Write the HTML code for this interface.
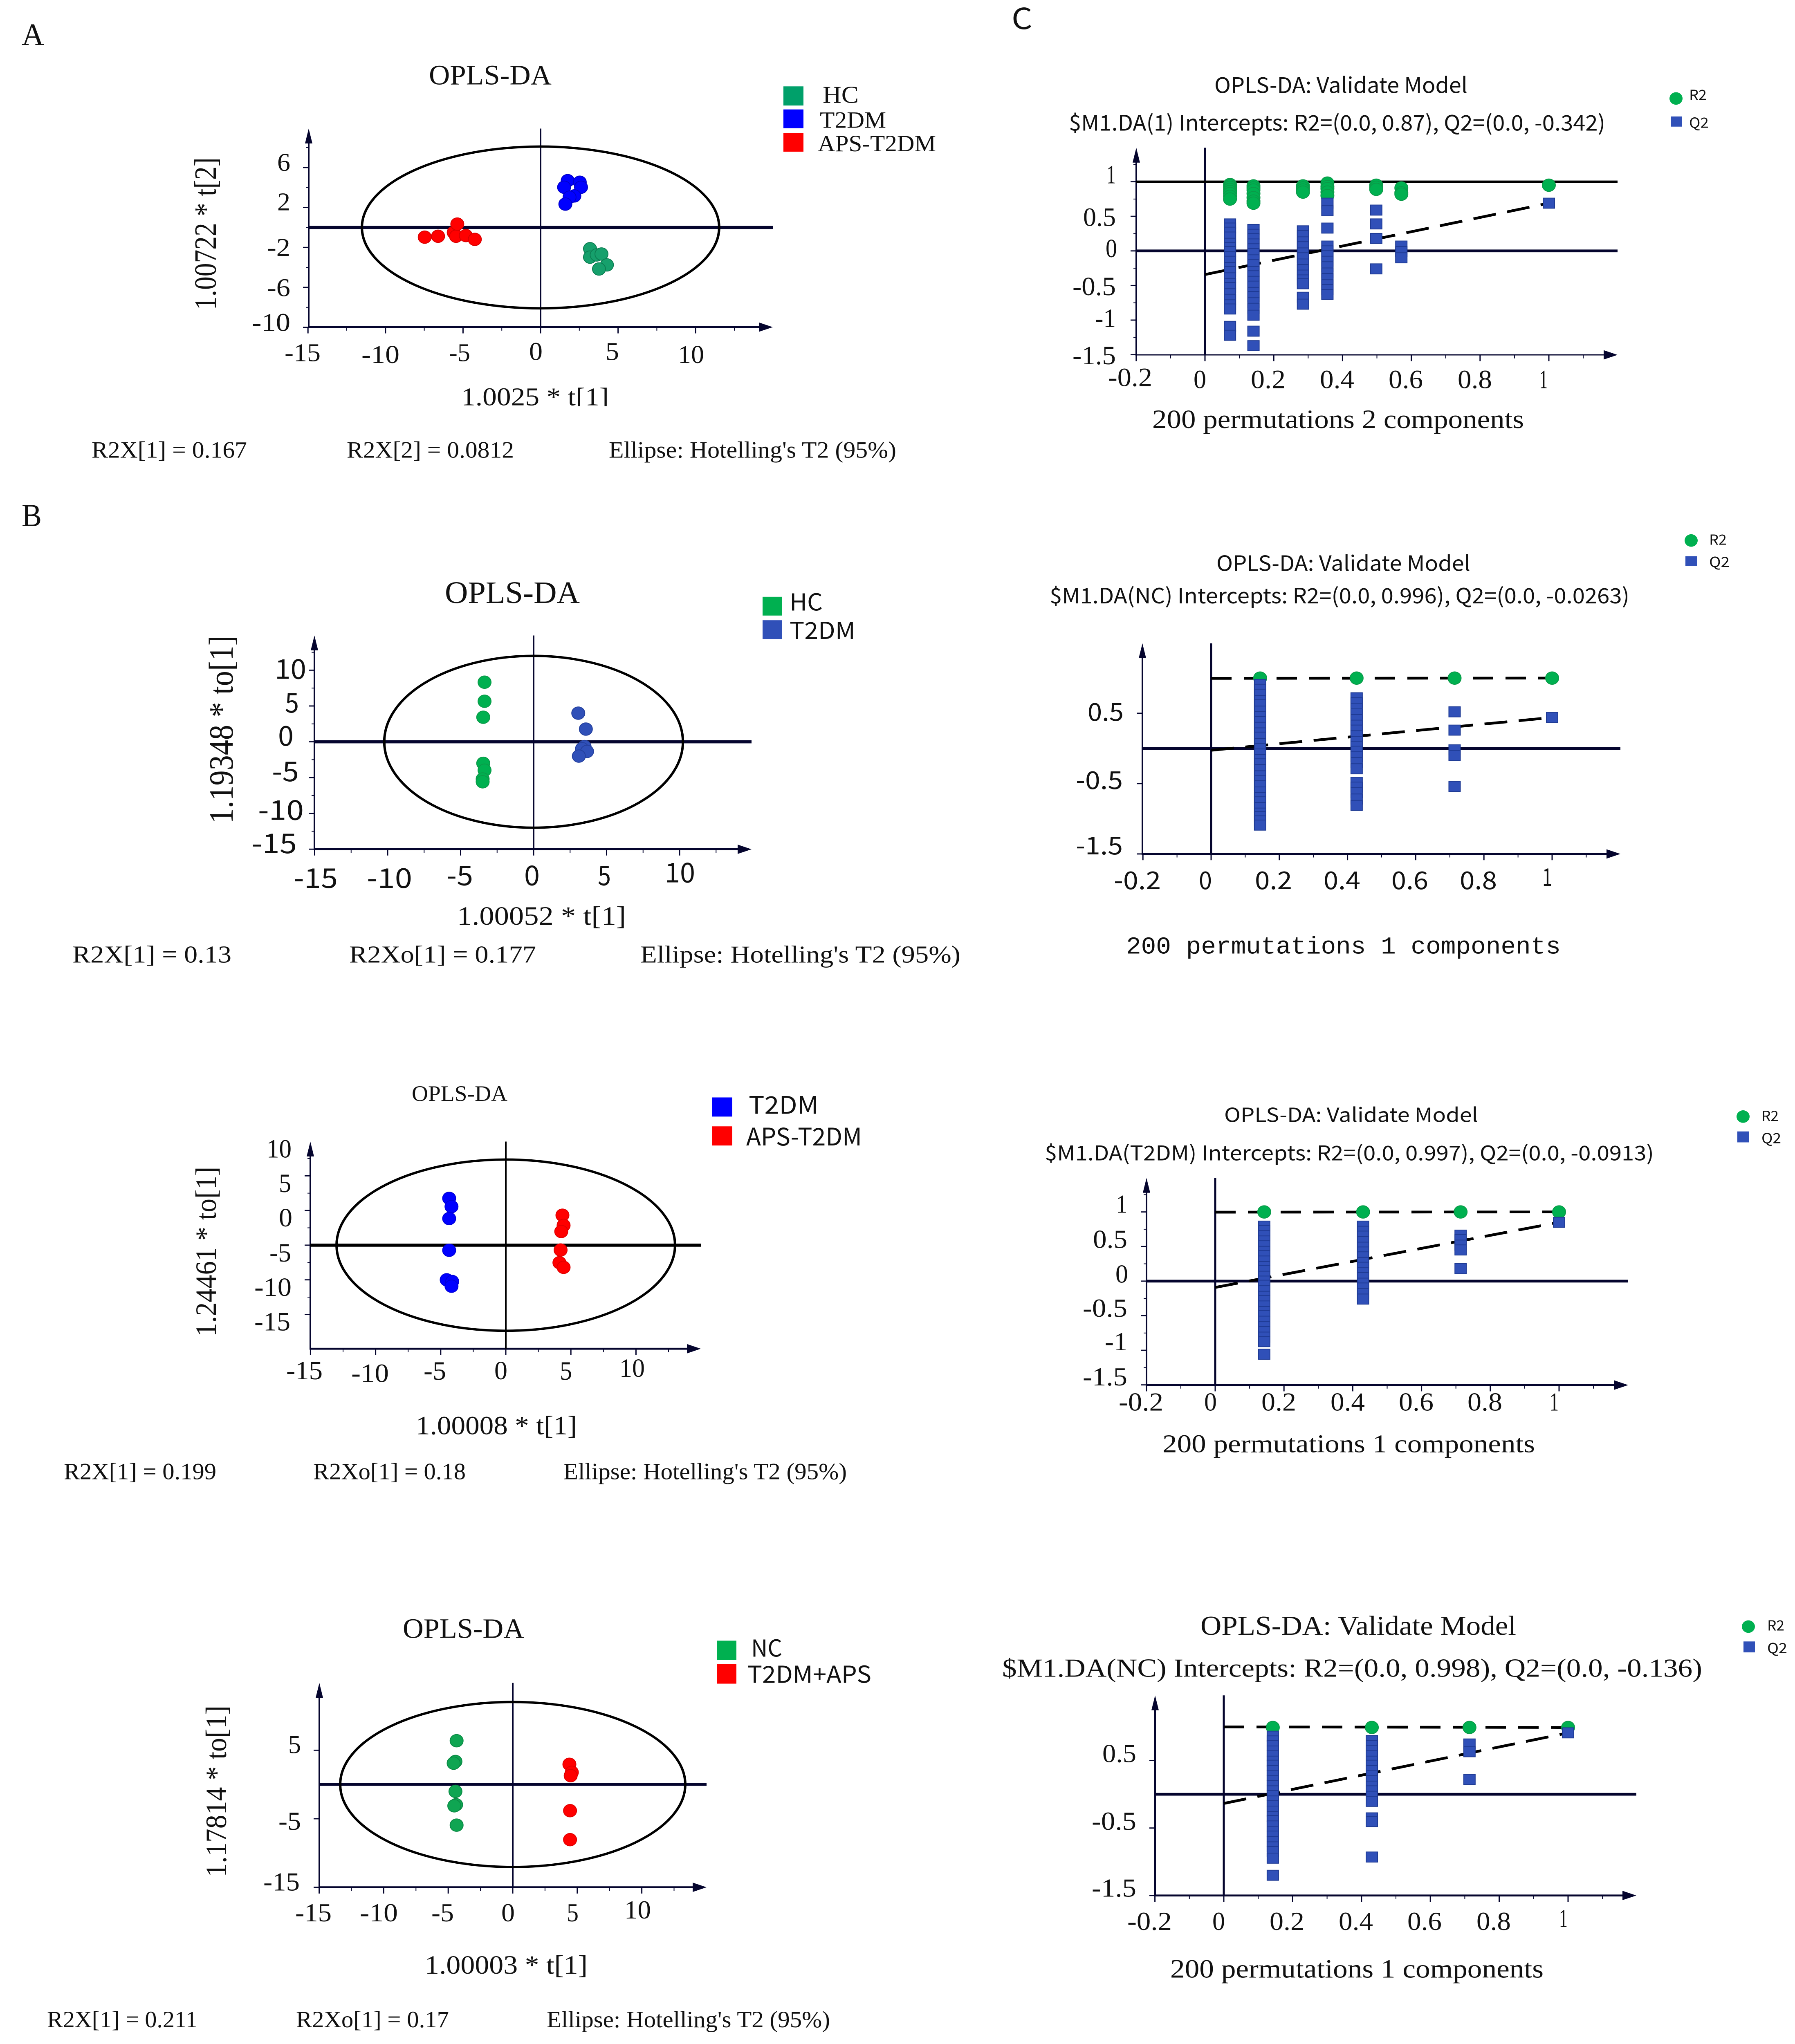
<!DOCTYPE html>
<html lang="en">
<head>
<meta charset="utf-8">
<title>OPLS-DA score and permutation plots</title>
<style>
html,body{margin:0;padding:0;background:#fff;width:100%;height:100%;overflow:hidden;}
svg{display:block;position:absolute;left:0;top:0;width:100vw;height:100vh;overflow:hidden;}
text{fill:#111;}
.se{font-family:"Liberation Serif",serif;}
.sa{font-family:"Noto Sans CJK SC","Liberation Sans",sans-serif;}
.mo{font-family:"Liberation Mono",monospace;}
</style>
</head>
<body>
<svg id="figure" xmlns="http://www.w3.org/2000/svg" width="4390" height="5230" viewBox="0 0 4390 5230" preserveAspectRatio="none">
<rect x="0" y="0" width="4390" height="5230" fill="#fff"/>

<!-- PANEL A -->
<g id="panel-a"></g>
<g>
<text class="se" x="53" y="115" font-size="80" textLength="55" lengthAdjust="spacingAndGlyphs">A</text>
<text class="se" x="1049" y="216" font-size="72" textLength="300" lengthAdjust="spacingAndGlyphs">OPLS-DA</text>
<rect x="1916" y="221" width="49" height="49" fill="#00a06a"/>
<rect x="1916" y="280" width="49" height="48" fill="#0000ff"/>
<rect x="1916" y="340" width="49" height="48" fill="#ff0000"/>
<text class="se" x="2012" y="263" font-size="62" textLength="88" lengthAdjust="spacingAndGlyphs">HC</text>
<text class="se" x="2005" y="327" font-size="60" textLength="162" lengthAdjust="spacingAndGlyphs">T2DM</text>
<text class="se" x="2000" y="387" font-size="60" textLength="289" lengthAdjust="spacingAndGlyphs">APS-T2DM</text>
<text class="se" x="678" y="437" font-size="65" textLength="32" lengthAdjust="spacingAndGlyphs">6</text>
<text class="se" x="678" y="538" font-size="65" textLength="32" lengthAdjust="spacingAndGlyphs">2</text>
<text class="se" x="653" y="655" font-size="65" textLength="57" lengthAdjust="spacingAndGlyphs">-2</text>
<text class="se" x="653" y="758" font-size="65" textLength="57" lengthAdjust="spacingAndGlyphs">-6</text>
<text class="se" x="616" y="847" font-size="65" textLength="94" lengthAdjust="spacingAndGlyphs">-10</text>
<text class="se" x="696" y="924" font-size="65" textLength="88" lengthAdjust="spacingAndGlyphs">-15</text>
<text class="se" x="884" y="929" font-size="65" textLength="93" lengthAdjust="spacingAndGlyphs">-10</text>
<text class="se" x="1098" y="924" font-size="65" textLength="52" lengthAdjust="spacingAndGlyphs">-5</text>
<text class="se" x="1294" y="921" font-size="65" textLength="33" lengthAdjust="spacingAndGlyphs">0</text>
<text class="se" x="1481" y="921" font-size="65" textLength="33" lengthAdjust="spacingAndGlyphs">5</text>
<text class="se" x="1658" y="929" font-size="65" textLength="64" lengthAdjust="spacingAndGlyphs">10</text>
<text class="se" x="1128" y="1037" font-size="65" textLength="361" lengthAdjust="spacingAndGlyphs">1.0025 * t[1]</text>
<rect x="1120" y="1039" width="380" height="24" fill="#fff"/>
<text class="se" transform="translate(528,793) rotate(-90)" x="0" y="0" font-size="76" textLength="390" lengthAdjust="spacingAndGlyphs">1.00722 * t[2]</text>
<text class="se" x="224" y="1171" font-size="60" textLength="380" lengthAdjust="spacingAndGlyphs">R2X[1] = 0.167</text>
<text class="se" x="848" y="1171" font-size="60" textLength="409" lengthAdjust="spacingAndGlyphs">R2X[2] = 0.0812</text>
<text class="se" x="1489" y="1171" font-size="60" textLength="703" lengthAdjust="spacingAndGlyphs">Ellipse: Hotelling's T2 (95%)</text>
</g>

<!-- PANEL B1 -->
<g id="panel-b1"></g>
<g>
<text class="se" x="53" y="1346" font-size="82" textLength="49" lengthAdjust="spacingAndGlyphs">B</text>
<text class="se" x="1088" y="1543" font-size="80" textLength="330" lengthAdjust="spacingAndGlyphs">OPLS-DA</text>
<rect x="1865" y="1527" width="47" height="48" fill="#00b050"/>
<rect x="1865" y="1587" width="47" height="48" fill="#3050b8"/>
<text class="sa" x="1931" y="1562" font-size="60" textLength="81" lengthAdjust="spacingAndGlyphs">HC</text>
<text class="sa" x="1931" y="1635" font-size="60" textLength="161" lengthAdjust="spacingAndGlyphs">T2DM</text>
<text class="sa" x="672" y="1737" font-size="70" textLength="77" lengthAdjust="spacingAndGlyphs">10</text>
<text class="sa" x="697" y="1823" font-size="70" textLength="34" lengthAdjust="spacingAndGlyphs">5</text>
<text class="sa" x="680" y="1908" font-size="70" textLength="38" lengthAdjust="spacingAndGlyphs">0</text>
<text class="sa" x="665" y="1999" font-size="70" textLength="66" lengthAdjust="spacingAndGlyphs">-5</text>
<text class="sa" x="631" y="2098" font-size="70" textLength="112" lengthAdjust="spacingAndGlyphs">-10</text>
<text class="sa" x="615" y="2183" font-size="70" textLength="111" lengthAdjust="spacingAndGlyphs">-15</text>
<text class="sa" x="718" y="2272" font-size="70" textLength="108" lengthAdjust="spacingAndGlyphs">-15</text>
<text class="sa" x="897" y="2272" font-size="70" textLength="111" lengthAdjust="spacingAndGlyphs">-10</text>
<text class="sa" x="1092" y="2265" font-size="70" textLength="65" lengthAdjust="spacingAndGlyphs">-5</text>
<text class="sa" x="1282" y="2265" font-size="70" textLength="38" lengthAdjust="spacingAndGlyphs">0</text>
<text class="sa" x="1462" y="2265" font-size="70" textLength="32" lengthAdjust="spacingAndGlyphs">5</text>
<text class="sa" x="1626" y="2258" font-size="70" textLength="74" lengthAdjust="spacingAndGlyphs">10</text>
<text class="se" x="1118" y="2366" font-size="68" textLength="413" lengthAdjust="spacingAndGlyphs">1.00052 * t[1]</text>
<text class="se" transform="translate(569,2107) rotate(-90)" x="0" y="0" font-size="84" textLength="481" lengthAdjust="spacingAndGlyphs">1.19348 * to[1]</text>
<text class="se" x="177" y="2463" font-size="62" textLength="389" lengthAdjust="spacingAndGlyphs">R2X[1] = 0.13</text>
<text class="se" x="854" y="2463" font-size="62" textLength="457" lengthAdjust="spacingAndGlyphs">R2Xo[1] = 0.177</text>
<text class="se" x="1566" y="2463" font-size="62" textLength="783" lengthAdjust="spacingAndGlyphs">Ellipse: Hotelling's T2 (95%)</text>
</g>

<!-- PANEL B2 -->
<g id="panel-b2"></g>
<g>
<text class="se" x="1007" y="2817" font-size="57" textLength="234" lengthAdjust="spacingAndGlyphs">OPLS-DA</text>
<rect x="1741" y="2808" width="50" height="49" fill="#0000ff"/>
<rect x="1741" y="2882" width="50" height="49" fill="#ff0000"/>
<text class="sa" x="1831" y="2850" font-size="62" textLength="171" lengthAdjust="spacingAndGlyphs">T2DM</text>
<text class="sa" x="1825" y="2931" font-size="62" textLength="283" lengthAdjust="spacingAndGlyphs">APS-T2DM</text>
<text class="se" x="652" y="2962" font-size="68" textLength="61" lengthAdjust="spacingAndGlyphs">10</text>
<text class="se" x="682" y="3050" font-size="68" textLength="30" lengthAdjust="spacingAndGlyphs">5</text>
<text class="se" x="682" y="3138" font-size="68" textLength="33" lengthAdjust="spacingAndGlyphs">0</text>
<text class="se" x="659" y="3228" font-size="68" textLength="53" lengthAdjust="spacingAndGlyphs">-5</text>
<text class="se" x="622" y="3316" font-size="68" textLength="91" lengthAdjust="spacingAndGlyphs">-10</text>
<text class="se" x="622" y="3404" font-size="68" textLength="88" lengthAdjust="spacingAndGlyphs">-15</text>
<text class="se" x="700" y="3529" font-size="68" textLength="89" lengthAdjust="spacingAndGlyphs">-15</text>
<text class="se" x="859" y="3536" font-size="68" textLength="92" lengthAdjust="spacingAndGlyphs">-10</text>
<text class="se" x="1036" y="3530" font-size="68" textLength="55" lengthAdjust="spacingAndGlyphs">-5</text>
<text class="se" x="1209" y="3529" font-size="68" textLength="32" lengthAdjust="spacingAndGlyphs">0</text>
<text class="se" x="1369" y="3530" font-size="68" textLength="30" lengthAdjust="spacingAndGlyphs">5</text>
<text class="se" x="1515" y="3523" font-size="68" textLength="62" lengthAdjust="spacingAndGlyphs">10</text>
<text class="se" x="1017" y="3670" font-size="68" textLength="394" lengthAdjust="spacingAndGlyphs">1.00008 * t[1]</text>
<text class="se" transform="translate(528,3420) rotate(-90)" x="0" y="0" font-size="72" textLength="435" lengthAdjust="spacingAndGlyphs">1.24461 * to[1]</text>
<text class="se" x="156" y="3785" font-size="60" textLength="373" lengthAdjust="spacingAndGlyphs">R2X[1] = 0.199</text>
<text class="se" x="766" y="3785" font-size="60" textLength="373" lengthAdjust="spacingAndGlyphs">R2Xo[1] = 0.18</text>
<text class="se" x="1378" y="3785" font-size="60" textLength="693" lengthAdjust="spacingAndGlyphs">Ellipse: Hotelling's T2 (95%)</text>
</g>

<!-- PANEL B3 -->
<g id="panel-b3"></g>
<g>
<text class="se" x="985" y="4191" font-size="72" textLength="297" lengthAdjust="spacingAndGlyphs">OPLS-DA</text>
<rect x="1754" y="4198" width="47" height="49" fill="#00b050"/>
<rect x="1754" y="4258" width="47" height="50" fill="#ff0000"/>
<text class="sa" x="1837" y="4239" font-size="60" textLength="76" lengthAdjust="spacingAndGlyphs">NC</text>
<text class="sa" x="1828" y="4306" font-size="60" textLength="303" lengthAdjust="spacingAndGlyphs">T2DM+APS</text>
<text class="se" x="705" y="4486" font-size="66" textLength="31" lengthAdjust="spacingAndGlyphs">5</text>
<text class="se" x="681" y="4682" font-size="66" textLength="55" lengthAdjust="spacingAndGlyphs">-5</text>
<text class="se" x="644" y="4837" font-size="66" textLength="89" lengthAdjust="spacingAndGlyphs">-15</text>
<text class="se" x="722" y="4916" font-size="66" textLength="89" lengthAdjust="spacingAndGlyphs">-15</text>
<text class="se" x="880" y="4916" font-size="66" textLength="93" lengthAdjust="spacingAndGlyphs">-10</text>
<text class="se" x="1055" y="4916" font-size="66" textLength="55" lengthAdjust="spacingAndGlyphs">-5</text>
<text class="se" x="1226" y="4916" font-size="66" textLength="33" lengthAdjust="spacingAndGlyphs">0</text>
<text class="se" x="1386" y="4916" font-size="66" textLength="29" lengthAdjust="spacingAndGlyphs">5</text>
<text class="se" x="1527" y="4909" font-size="66" textLength="65" lengthAdjust="spacingAndGlyphs">10</text>
<text class="se" x="1039" y="5050" font-size="68" textLength="398" lengthAdjust="spacingAndGlyphs">1.00003 * t[1]</text>
<text class="se" transform="translate(553,4803) rotate(-90)" x="0" y="0" font-size="72" textLength="439" lengthAdjust="spacingAndGlyphs">1.17814 * to[1]</text>
<text class="se" x="115" y="5187" font-size="60" textLength="368" lengthAdjust="spacingAndGlyphs">R2X[1] = 0.211</text>
<text class="se" x="724" y="5187" font-size="60" textLength="374" lengthAdjust="spacingAndGlyphs">R2Xo[1] = 0.17</text>
<text class="se" x="1337" y="5187" font-size="60" textLength="693" lengthAdjust="spacingAndGlyphs">Ellipse: Hotelling's T2 (95%)</text>
</g>

<!-- PANEL C1 -->
<g id="panel-c1"></g>
<g>
<text class="sa" x="2474" y="74" font-size="74" textLength="51" lengthAdjust="spacingAndGlyphs">C</text>
<text class="sa" x="2970" y="238" font-size="55" textLength="619" lengthAdjust="spacingAndGlyphs">OPLS-DA: Validate Model</text>
<text class="sa" x="2614" y="334" font-size="55" textLength="1312" lengthAdjust="spacingAndGlyphs">$M1.DA(1) Intercepts: R2=(0.0, 0.87), Q2=(0.0, -0.342)</text>
<circle cx="4099" cy="252" r="16" fill="#00b050"/>
<rect x="4086" y="298" width="28" height="26" fill="#3050b8"/>
<text class="sa" x="4131" y="256" font-size="36" textLength="43" lengthAdjust="spacingAndGlyphs">R2</text>
<text class="sa" x="4131" y="327" font-size="36" textLength="48" lengthAdjust="spacingAndGlyphs">Q2</text>
<text class="se" x="2706" y="469" font-size="68" textLength="23" lengthAdjust="spacingAndGlyphs">1</text>
<text class="se" x="2649" y="578" font-size="68" textLength="80" lengthAdjust="spacingAndGlyphs">0.5</text>
<text class="se" x="2704" y="658" font-size="68" textLength="28" lengthAdjust="spacingAndGlyphs">0</text>
<text class="se" x="2623" y="755" font-size="68" textLength="106" lengthAdjust="spacingAndGlyphs">-0.5</text>
<text class="se" x="2678" y="837" font-size="68" textLength="51" lengthAdjust="spacingAndGlyphs">-1</text>
<text class="se" x="2623" y="932" font-size="68" textLength="106" lengthAdjust="spacingAndGlyphs">-1.5</text>
<text class="se" x="2710" y="988" font-size="68" textLength="108" lengthAdjust="spacingAndGlyphs">-0.2</text>
<text class="se" x="2919" y="993" font-size="68" textLength="31" lengthAdjust="spacingAndGlyphs">0</text>
<text class="se" x="3059" y="993" font-size="68" textLength="85" lengthAdjust="spacingAndGlyphs">0.2</text>
<text class="se" x="3228" y="993" font-size="68" textLength="84" lengthAdjust="spacingAndGlyphs">0.4</text>
<text class="se" x="3396" y="993" font-size="68" textLength="84" lengthAdjust="spacingAndGlyphs">0.6</text>
<text class="se" x="3565" y="993" font-size="68" textLength="84" lengthAdjust="spacingAndGlyphs">0.8</text>
<text class="se" x="3765" y="993" font-size="68" textLength="20" lengthAdjust="spacingAndGlyphs">1</text>
<text class="se" x="2818" y="1095" font-size="68" textLength="909" lengthAdjust="spacingAndGlyphs">200 permutations 2 components</text>
</g>

<!-- PANEL C2 -->
<g id="panel-c2"></g>
<g>
<text class="sa" x="2975" y="1461" font-size="54" textLength="621" lengthAdjust="spacingAndGlyphs">OPLS-DA: Validate Model</text>
<text class="sa" x="2567" y="1544" font-size="54" textLength="1418" lengthAdjust="spacingAndGlyphs">$M1.DA(NC) Intercepts: R2=(0.0, 0.996), Q2=(0.0, -0.0263)</text>
<circle cx="4136" cy="1383" r="16" fill="#00b050"/>
<rect x="4122" y="1423" width="28" height="25" fill="#3050b8"/>
<text class="sa" x="4180" y="1394" font-size="36" textLength="43" lengthAdjust="spacingAndGlyphs">R2</text>
<text class="sa" x="4180" y="1451" font-size="36" textLength="50" lengthAdjust="spacingAndGlyphs">Q2</text>
<text class="sa" x="2660" y="1844" font-size="63" textLength="88" lengthAdjust="spacingAndGlyphs">0.5</text>
<text class="sa" x="2631" y="2019" font-size="63" textLength="115" lengthAdjust="spacingAndGlyphs">-0.5</text>
<text class="sa" x="2631" y="2186" font-size="63" textLength="115" lengthAdjust="spacingAndGlyphs">-1.5</text>
<text class="sa" x="2724" y="2275" font-size="63" textLength="115" lengthAdjust="spacingAndGlyphs">-0.2</text>
<text class="sa" x="2932" y="2275" font-size="63" textLength="32" lengthAdjust="spacingAndGlyphs">0</text>
<text class="sa" x="3069" y="2275" font-size="63" textLength="91" lengthAdjust="spacingAndGlyphs">0.2</text>
<text class="sa" x="3237" y="2275" font-size="63" textLength="90" lengthAdjust="spacingAndGlyphs">0.4</text>
<text class="sa" x="3403" y="2275" font-size="63" textLength="90" lengthAdjust="spacingAndGlyphs">0.6</text>
<text class="sa" x="3570" y="2275" font-size="63" textLength="91" lengthAdjust="spacingAndGlyphs">0.8</text>
<text class="sa" x="3772" y="2267" font-size="63" textLength="24" lengthAdjust="spacingAndGlyphs">1</text>
<text class="mo" x="2754" y="2440" font-size="62" textLength="1063" lengthAdjust="spacingAndGlyphs">200 permutations 1 components</text>
</g>

<!-- PANEL C3 -->
<g id="panel-c3"></g>
<g>
<text class="sa" x="2994" y="2871" font-size="50" textLength="621" lengthAdjust="spacingAndGlyphs">OPLS-DA: Validate Model</text>
<text class="sa" x="2555" y="2969" font-size="52" textLength="1490" lengthAdjust="spacingAndGlyphs">$M1.DA(T2DM) Intercepts: R2=(0.0, 0.997), Q2=(0.0, -0.0913)</text>
<circle cx="4263" cy="2857" r="16" fill="#00b050"/>
<rect x="4249" y="2895" width="28" height="28" fill="#3050b8"/>
<text class="sa" x="4308" y="2868" font-size="36" textLength="42" lengthAdjust="spacingAndGlyphs">R2</text>
<text class="sa" x="4308" y="2925" font-size="36" textLength="48" lengthAdjust="spacingAndGlyphs">Q2</text>
<text class="se" x="2730" y="3103" font-size="66" textLength="27" lengthAdjust="spacingAndGlyphs">1</text>
<text class="se" x="2673" y="3193" font-size="66" textLength="84" lengthAdjust="spacingAndGlyphs">0.5</text>
<text class="se" x="2728" y="3282" font-size="66" textLength="31" lengthAdjust="spacingAndGlyphs">0</text>
<text class="se" x="2648" y="3369" font-size="66" textLength="109" lengthAdjust="spacingAndGlyphs">-0.5</text>
<text class="se" x="2702" y="3455" font-size="66" textLength="55" lengthAdjust="spacingAndGlyphs">-1</text>
<text class="se" x="2648" y="3545" font-size="66" textLength="109" lengthAdjust="spacingAndGlyphs">-1.5</text>
<text class="se" x="2736" y="3609" font-size="66" textLength="109" lengthAdjust="spacingAndGlyphs">-0.2</text>
<text class="se" x="2945" y="3609" font-size="66" textLength="31" lengthAdjust="spacingAndGlyphs">0</text>
<text class="se" x="3085" y="3609" font-size="66" textLength="85" lengthAdjust="spacingAndGlyphs">0.2</text>
<text class="se" x="3254" y="3609" font-size="66" textLength="84" lengthAdjust="spacingAndGlyphs">0.4</text>
<text class="se" x="3421" y="3609" font-size="66" textLength="85" lengthAdjust="spacingAndGlyphs">0.6</text>
<text class="se" x="3589" y="3609" font-size="66" textLength="85" lengthAdjust="spacingAndGlyphs">0.8</text>
<text class="se" x="3790" y="3609" font-size="66" textLength="22" lengthAdjust="spacingAndGlyphs">1</text>
<text class="se" x="2843" y="3716" font-size="65" textLength="911" lengthAdjust="spacingAndGlyphs">200 permutations 1 components</text>
</g>

<!-- PANEL C4 -->
<g id="panel-c4"></g>
<g>
<text class="se" x="2936" y="4183" font-size="70" textLength="772" lengthAdjust="spacingAndGlyphs">OPLS-DA: Validate Model</text>
<text class="se" x="2451" y="4290" font-size="66" textLength="1712" lengthAdjust="spacingAndGlyphs">$M1.DA(NC) Intercepts: R2=(0.0, 0.998), Q2=(0.0, -0.136)</text>
<circle cx="4276" cy="4162" r="16" fill="#00b050"/>
<rect x="4264" y="4200" width="28" height="28" fill="#3050b8"/>
<text class="sa" x="4322" y="4172" font-size="36" textLength="42" lengthAdjust="spacingAndGlyphs">R2</text>
<text class="sa" x="4322" y="4230" font-size="36" textLength="49" lengthAdjust="spacingAndGlyphs">Q2</text>
<text class="se" x="2696" y="4509" font-size="66" textLength="83" lengthAdjust="spacingAndGlyphs">0.5</text>
<text class="se" x="2670" y="4682" font-size="66" textLength="109" lengthAdjust="spacingAndGlyphs">-0.5</text>
<text class="se" x="2670" y="4853" font-size="66" textLength="109" lengthAdjust="spacingAndGlyphs">-1.5</text>
<text class="se" x="2757" y="4938" font-size="66" textLength="109" lengthAdjust="spacingAndGlyphs">-0.2</text>
<text class="se" x="2965" y="4938" font-size="66" textLength="31" lengthAdjust="spacingAndGlyphs">0</text>
<text class="se" x="3105" y="4938" font-size="66" textLength="85" lengthAdjust="spacingAndGlyphs">0.2</text>
<text class="se" x="3274" y="4938" font-size="66" textLength="84" lengthAdjust="spacingAndGlyphs">0.4</text>
<text class="se" x="3442" y="4938" font-size="66" textLength="84" lengthAdjust="spacingAndGlyphs">0.6</text>
<text class="se" x="3611" y="4938" font-size="66" textLength="84" lengthAdjust="spacingAndGlyphs">0.8</text>
<text class="se" x="3813" y="4931" font-size="66" textLength="21" lengthAdjust="spacingAndGlyphs">1</text>
<text class="se" x="2862" y="5060" font-size="68" textLength="913" lengthAdjust="spacingAndGlyphs">200 permutations 1 components</text>
</g>
</svg>

<script>
// ---------- Panel A values ----------
const aXTicks = [-15, -10, -5, 0, 5, 10];
const aYTicks = [6, 2, -2, -6, -10];
const aEllipseRadii = [11.52, 8.1];
const aHcX = [3.19, 3.19, 3.62, 3.93, 4.28, 3.77];
const aHcY = [-2.13, -2.97, -2.75, -2.66, -3.75, -4.16];
const aT2dmX = [1.75, 1.52, 2.53, 2.61, 2.18, 1.87, 1.6];
const aT2dmY = [4.69, 4.03, 4.53, 4.03, 3.16, 3.03, 2.34];
const aApsX = [-7.47, -6.61, -5.6, -5.45, -5.37, -4.82, -4.24];
const aApsY = [-0.97, -0.88, -0.5, -0.88, 0.34, -0.81, -1.19];

// ---------- Panel B1 values ----------
const b1XTicks = [-15, -10, -5, 0, 5, 10];
const b1YTicks = [10, 5, 0, -5, -10, -15];
const b1EllipseRadii = [10.23, 12.0];
const b1HcX = [-3.36, -3.36, -3.45, -3.45, -3.36, -3.49, -3.49];
const b1HcY = [8.32, 5.66, 3.43, -3.0, -3.97, -5.2, -5.59];
const b1T2dmX = [3.06, 3.58, 3.49, 3.32, 3.66, 3.1];
const b1T2dmY = [4.0, 1.77, -0.66, -0.96, -1.35, -2.0];

// ---------- Panel B2 values ----------
const b2XTicks = [-15, -10, -5, 0, 5, 10];
const b2YTicks = [5, 0, -5, -10, -15];
const b2EllipseRadii = [13.0, 12.35];
const b2T2dmX = [-4.35, -4.17, -4.35, -4.35, -4.54, -4.12, -4.17];
const b2T2dmY = [1.75, 0.56, -1.16, -5.74, -10.0, -10.24, -10.92];
const b2ApsX = [4.35, 4.44, 4.26, 4.21, 4.12, 4.44];
const b2ApsY = [-0.68, -2.15, -3.03, -5.7, -7.53, -8.2];

// ---------- Panel B3 values ----------
const b3XTicks = [-15, -10, -5, 0, 5, 10];
const b3YTicks = [5, -5, -15];
const b3EllipseRadii = [13.37, 12.04];
const b3NcX = [-4.35, -4.44, -4.58, -4.44, -4.39, -4.53, -4.35];
const b3NcY = [6.39, 3.36, 3.11, -1.0, -2.95, -3.11, -5.93];
const b3ApsX = [4.39, 4.58, 4.49, 4.44, 4.44];
const b3ApsY = [2.95, 1.78, 1.29, -3.82, -8.05];

// ---------- Panel C1 values ----------
const c1XTicks = [-0.2, 0, 0.2, 0.4, 0.6, 0.8, 1];
const c1YTicks = [1, 0.5, 0, -0.5, -1, -1.5];
const c1Columns = [0.0727, 0.141, 0.285, 0.356, 0.498, 0.571, 1];
const c1R2 = [
  [0.96, 0.94, 0.92, 0.89, 0.86, 0.83, 0.79, 0.75],
  [0.94, 0.91, 0.88, 0.83, 0.77, 0.72, 0.69],
  [0.94, 0.91, 0.88, 0.85],
  [0.98, 0.93, 0.90, 0.85, 0.80],
  [0.95, 0.92, 0.89],
  [0.91, 0.84, 0.82],
  [0.95]
];
const c1Q2 = [
  [0.39, 0.33, 0.27, 0.2, 0.11, 0.05, -0.01, -0.08, -0.15, -0.24, -0.3, -0.39, -0.47, -0.53, -0.62, -0.7, -0.78, -0.84, -1.09, -1.22],
  [0.31, 0.24, 0.18, 0.1, 0.03, -0.04, -0.13, -0.2, -0.3, -0.36, -0.44, -0.51, -0.6, -0.66, -0.75, -0.83, -0.93, -1.16, -1.37],
  [0.29, 0.22, 0.13, 0.06, -0.03, -0.1, -0.19, -0.27, -0.35, -0.42, -0.475, -0.67, -0.77],
  [0.69, 0.58, 0.33, 0.07, 0, -0.07, -0.15, -0.23, -0.32, -0.4, -0.49, -0.56, -0.63],
  [0.59, 0.39, 0.18, -0.26],
  [0.07, -0.01, -0.1],
  [0.69]
];
const c1Intercepts = [0.87, -0.342];

// ---------- Panel C2 values ----------
const c2XTicks = [-0.2, 0, 0.2, 0.4, 0.6, 0.8, 1];
const c2YTicks = [0.5, -0.5, -1.5];
const c2Columns = [0.1437, 0.4267, 0.714, 1];
const c2R2 = [[1.0], [1.0], [1.0], [1.0]];
const c2Q2 = [
  [0.91, 0.84, 0.77, 0.68, 0.62, 0.53, 0.45, 0.38, 0.3, 0.22, 0.16, 0.07, 0, -0.08, -0.16, -0.22, -0.3, -0.39, -0.46, -0.53, -0.62, -0.7, -0.76, -0.84, -0.92, -0.97, -1.03, -1.09],
  [0.72, 0.65, 0.57, 0.49, 0.41, 0.33, 0.26, 0.18, 0.1, 0.03, -0.04, -0.12, -0.2, -0.29, -0.48, -0.55, -0.63, -0.72, -0.81],
  [0.52, 0.26, -0.02, -0.1, -0.54],
  [0.44]
];
const c2Intercepts = [0.996, -0.0263];

// ---------- Panel C3 values ----------
const c3XTicks = [-0.2, 0, 0.2, 0.4, 0.6, 0.8, 1];
const c3YTicks = [1, 0.5, 0, -0.5, -1, -1.5];
const c3Columns = [0.1425, 0.43, 0.7137, 1];
const c3R2 = [[1.0], [1.0], [1.0], [1.0]];
const c3Q2 = [
  [0.795, 0.73, 0.66, 0.58, 0.51, 0.43, 0.37, 0.29, 0.21, 0.15, 0.07, 0, -0.06, -0.14, -0.22, -0.28, -0.36, -0.44, -0.5, -0.58, -0.66, -0.73, -0.81, -0.875, -1.057],
  [0.795, 0.72, 0.65, 0.57, 0.49, 0.42, 0.35, 0.27, 0.2, 0.12, 0.05, -0.03, -0.1, -0.18, -0.26],
  [0.665, 0.6, 0.52, 0.45, 0.18],
  [0.85]
];
const c3Intercepts = [0.997, -0.0913];

// ---------- Panel C4 values ----------
const c4XTicks = [-0.2, 0, 0.2, 0.4, 0.6, 0.8, 1];
const c4YTicks = [0.5, -0.5, -1.5];
const c4Columns = [0.1424, 0.43, 0.7136, 1];
const c4R2 = [[0.99], [0.99], [0.99], [0.99]];
const c4Q2 = [
  [0.86, 0.79, 0.72, 0.64, 0.57, 0.49, 0.43, 0.35, 0.28, 0.2, 0.13, 0.05, -0.02, -0.1, -0.17, -0.25, -0.33, -0.39, -0.47, -0.55, -0.62, -0.7, -0.78, -0.85, -0.947, -1.2],
  [0.796, 0.72, 0.65, 0.57, 0.49, 0.43, 0.35, 0.28, 0.2, 0.12, 0.05, -0.03, -0.105, -0.35, -0.404, -0.93],
  [0.745, 0.63, 0.22],
  [0.91]
];
const c4Intercepts = [0.998, -0.136];

// ---------- Drawing ----------
const NS = 'http://www.w3.org/2000/svg';
const INK = '#05052e';

function make(parent, tag, attrs) {
  const el = document.createElementNS(NS, tag);
  for (const k in attrs) el.setAttribute(k, attrs[k]);
  parent.appendChild(el);
  return el;
}

function line(parent, name, x1, y1, x2, y2, stroke, width, dash) {
  const el = make(parent, 'line', {x1: x1, y1: y1, x2: x2, y2: y2, stroke: stroke, 'stroke-width': width});
  if (dash) el.setAttribute('stroke-dasharray', dash);
  
  
  return el;
}

function arrow(parent, name, pts) {
  const el = make(parent, 'polygon', {points: pts, fill: INK});
  
  
}

function axisScale(anchorValue, anchorPx, pxPerUnit) {
  return function (v) { return anchorPx + (v - anchorValue) * pxPerUnit; };
}

function drawAxes(g, box, sx, sy, xTicks, yTicks) {
  const xStep = xTicks[1] - xTicks[0];
  const yStep = yTicks[1] - yTicks[0];
  // y axis
  line(g, 'y-axis', box.left, box.top + 20, box.left, box.bottom + 2, INK, box.yW || 4);
  arrow(g, 'y-axis-arrow', (box.left - 9) + ',' + (box.top + 38) + ' ' + box.left + ',' + box.top + ' ' + (box.left + 9) + ',' + (box.top + 38));
  // x axis
  line(g, 'x-axis', box.left - 2, box.bottom, box.right - 20, box.bottom, INK, box.xW || 5);
  arrow(g, 'x-axis-arrow', (box.right - 34) + ',' + (box.bottom - 12) + ' ' + box.right + ',' + box.bottom + ' ' + (box.right - 34) + ',' + (box.bottom + 12));
  // ticks
  xTicks.forEach(function (t) {
    line(g, 'x-tick', sx(t), box.bottom, sx(t), box.bottom + 16, INK, 3);
    const m = sx(t + xStep / 2);
    if (m < box.right - 30) line(g, 'x-minor-tick', m, box.bottom, m, box.bottom + 9, INK, 2);
  });
  yTicks.forEach(function (t) {
    line(g, 'y-tick', box.left - 14, sy(t), box.left, sy(t), INK, 3);
    if (box.yMinor) {
      const m = sy(t - yStep / 2);
      if (m > box.top + 40 && m < box.bottom) line(g, 'y-minor-tick', box.left - 7, m, box.left, m, INK, 2);
    }
  });
}

function drawDots(g, name, xs, ys, sx, sy, fill, edge, r) {
  xs.forEach(function (x, i) {
    const c = make(g, 'circle', {cx: sx(x), cy: sy(ys[i]), r: r, fill: fill, stroke: edge, 'stroke-width': 2});
    
    
  });
}

function drawScatter(id, box, xTicks, yTicks, radii, series) {
  const g = document.getElementById(id);
  const sx = axisScale(0, box.x0, box.xUnit);
  const sy = axisScale(box.yMid || 0, box.y0, -box.yUnit);
  drawAxes(g, box, sx, sy, xTicks, yTicks);
  // horizontal and vertical centre lines
  line(g, 'horizontal-centre-line', box.left, box.y0, box.right, box.y0, box.midInk || INK, box.midW || 7);
  line(g, 'vertical-centre-line', box.x0, box.top, box.x0, box.bottom, box.midInk || INK, 4);
  // Hotelling ellipse
  const e = make(g, 'ellipse', {cx: box.x0, cy: box.y0, rx: radii[0] * box.xUnit, ry: radii[1] * box.yUnit, fill: 'none', stroke: '#000', 'stroke-width': 6});
  
  
  series.forEach(function (s) {
    drawDots(g, s.name, s.xs, s.ys, sx, sy, s.fill, s.edge, 16);
  });
}

function drawPermutation(id, box, xTicks, yTicks, columns, r2, q2, intercepts, r2Solid) {
  const g = document.getElementById(id);
  const sx = axisScale(0, box.x0, box.xUnit);
  const sy = axisScale(0, box.y0, -box.yUnit);
  drawAxes(g, box, sx, sy, xTicks, yTicks);
  line(g, 'x-zero-line', box.x0, box.top, box.x0, box.bottom, INK, 5);
  line(g, 'y-zero-line', box.left, box.y0, box.right, box.y0, INK, 7);
  const lastCol = columns.length - 1;
  const r2End = r2[lastCol][0];
  const q2End = q2[lastCol][0];
  if (r2Solid) {
    line(g, 'unit-reference-line', box.left, sy(1), box.right, sy(1), '#000', 6);
  } else {
    line(g, 'r2-trend-line', sx(0), sy(intercepts[0]), sx(1), sy(r2End), '#000', 7, '50 30');
  }
  line(g, 'q2-trend-line', sx(0), sy(intercepts[1]), sx(1), sy(q2End), '#000', 7, '56 28');
  columns.forEach(function (col, i) {
    r2[i].forEach(function (v) {
      const c = make(g, 'circle', {cx: sx(col), cy: sy(v), r: 16, fill: '#00b050', stroke: '#0a9a48', 'stroke-width': 2});
      
      
    });
  });
  columns.forEach(function (col, i) {
    q2[i].forEach(function (v) {
      const w = 28, h = 26;
      const r = make(g, 'rect', {x: sx(col) - w / 2, y: sy(v) - h / 2, width: w, height: h, fill: '#3050b8', stroke: '#1e3a94', 'stroke-width': 2});
      
      
    });
  });
}

drawScatter('panel-a',
  {left: 755, right: 1890, top: 329, bottom: 837, x0: 1322, y0: 582, xUnit: 37.92, yUnit: 25.55, yMinor: true, midW: 8},
  aXTicks, aYTicks, aEllipseRadii,
  [
    {name: 'hc-point', xs: aHcX, ys: aHcY, fill: '#16a06c', edge: '#0c7e52'},
    {name: 't2dm-point', xs: aT2dmX, ys: aT2dmY, fill: '#0000ff', edge: '#0000c8'},
    {name: 'aps-t2dm-point', xs: aApsX, ys: aApsY, fill: '#ff0000', edge: '#d80000'}
  ]);

drawScatter('panel-b1',
  {left: 769, right: 1838, top: 1626, bottom: 2173, x0: 1305, y0: 1898, xUnit: 35.7, yUnit: 18.32, yMinor: true, midW: 8},
  b1XTicks, b1YTicks, b1EllipseRadii,
  [
    {name: 'hc-point', xs: b1HcX, ys: b1HcY, fill: '#00b050', edge: '#0a9a48'},
    {name: 't2dm-point', xs: b1T2dmX, ys: b1T2dmY, fill: '#3050b8', edge: '#24409e'}
  ]);

drawScatter('panel-b2',
  {left: 759, right: 1714, top: 2921, bottom: 3451, x0: 1237, y0: 3186, yMid: -5, xUnit: 31.84, yUnit: 17.74, yMinor: true, midW: 8, midInk: '#000'},
  b2XTicks, b2YTicks, b2EllipseRadii,
  [
    {name: 't2dm-point', xs: b2T2dmX, ys: b2T2dmY, fill: '#0000ff', edge: '#0000d8'},
    {name: 'aps-t2dm-point', xs: b2ApsX, ys: b2ApsY, fill: '#ff0000', edge: '#e00000'}
  ]);

drawScatter('panel-b3',
  {left: 781, right: 1728, top: 4306, bottom: 4829, x0: 1254, y0: 4566, xUnit: 31.56, yUnit: 17.53, yMinor: false, midW: 7},
  b3XTicks, b3YTicks, b3EllipseRadii,
  [
    {name: 'nc-point', xs: b3NcX, ys: b3NcY, fill: '#0fa552', edge: '#0a8a44'},
    {name: 't2dm-aps-point', xs: b3ApsX, ys: b3ApsY, fill: '#ff0000', edge: '#e00000'}
  ]);

drawPermutation('panel-c1',
  {left: 2779, right: 3956, top: 378, bottom: 908, x0: 2947, y0: 642, xUnit: 841, yUnit: 177, yMinor: true, xW: 3},
  c1XTicks, c1YTicks, c1Columns, c1R2, c1Q2, c1Intercepts, true);

drawPermutation('panel-c2',
  {left: 2794, right: 3963, top: 1646, bottom: 2185, x0: 2962, y0: 1915, xUnit: 834, yUnit: 180, yMinor: false},
  c2XTicks, c2YTicks, c2Columns, c2R2, c2Q2, c2Intercepts, false);

drawPermutation('panel-c3',
  {left: 2804, right: 3982, top: 3014, bottom: 3544, x0: 2972, y0: 3278, xUnit: 841, yUnit: 177, yMinor: true},
  c3XTicks, c3YTicks, c3Columns, c3R2, c3Q2, c3Intercepts, false);

drawPermutation('panel-c4',
  {left: 2825, right: 4002, top: 4338, bottom: 4850, x0: 2993, y0: 4591, xUnit: 842, yUnit: 172.7, yMinor: false},
  c4XTicks, c4YTicks, c4Columns, c4R2, c4Q2, c4Intercepts, false);
</script>
</body>
</html>
